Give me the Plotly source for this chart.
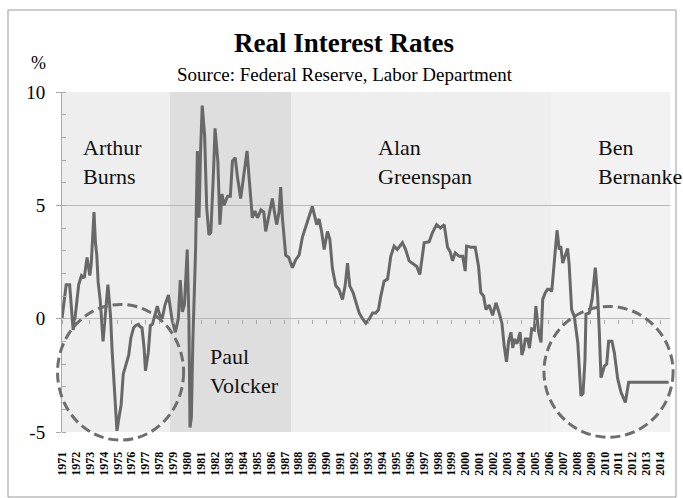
import plotly.graph_objects as go

# ---------------- data ----------------
years = [1971.0, 1971.3, 1971.55, 1971.8, 1971.95, 1972.2, 1972.4, 1972.6, 1972.8, 1973.0,
         1973.1, 1973.3, 1973.4, 1973.5, 1973.6, 1973.75, 1973.95, 1974.1, 1974.3, 1974.4,
         1974.5, 1974.6, 1974.8, 1974.95, 1975.1, 1975.25, 1975.4, 1975.55, 1975.7, 1975.8,
         1975.95, 1976.15, 1976.3, 1976.5, 1976.6, 1976.75, 1976.9, 1977.0, 1977.2, 1977.35,
         1977.5, 1977.7, 1977.85, 1978.0, 1978.2, 1978.4, 1978.65, 1978.9, 1979.15, 1979.36,
         1979.5, 1979.65, 1979.8, 1980.0, 1980.12, 1980.2, 1980.3, 1980.4, 1980.6, 1980.73,
         1980.85, 1980.96, 1981.08, 1981.25, 1981.4, 1981.56, 1981.7, 1981.9, 1982.0, 1982.2,
         1982.35, 1982.5, 1982.65, 1982.9, 1983.1, 1983.25, 1983.45, 1983.6, 1983.84, 1984.08,
         1984.3, 1984.45, 1984.68, 1984.87, 1985.05, 1985.3, 1985.5, 1985.64, 1985.9, 1986.12,
         1986.27, 1986.43, 1986.6, 1986.72, 1986.84, 1987.08, 1987.3, 1987.56, 1987.8, 1988.04,
         1988.28, 1988.52, 1988.7, 1988.99, 1989.15, 1989.31, 1989.48, 1989.67, 1989.84, 1990.08,
         1990.25, 1990.44, 1990.68, 1990.9, 1991.16, 1991.35, 1991.52, 1991.68, 1991.92, 1992.12,
         1992.36, 1992.6, 1992.84, 1993.1, 1993.32, 1993.55, 1993.75, 1993.9, 1994.15, 1994.4,
         1994.63, 1994.87, 1995.1, 1995.47, 1995.7, 1995.95, 1996.3, 1996.5, 1996.72, 1997.03,
         1997.39, 1997.63, 1997.92, 1998.2, 1998.47, 1998.71, 1998.9, 1999.07, 1999.26, 1999.55,
         1999.8, 1999.98, 2000.08, 2000.39, 2000.7, 2000.94, 2001.1, 2001.3, 2001.47, 2001.7,
         2001.95, 2002.19, 2002.42, 2002.62, 2002.78, 2002.95, 2003.1, 2003.27, 2003.4, 2003.5,
         2003.7, 2003.93, 2004.05, 2004.18, 2004.3, 2004.47, 2004.6, 2004.76, 2004.95, 2005.06,
         2005.26, 2005.43, 2005.55, 2005.74, 2005.9, 2006.02, 2006.2, 2006.38, 2006.58, 2006.74,
         2006.85, 2006.99, 2007.15, 2007.34, 2007.45, 2007.63, 2007.82, 2008.07, 2008.3, 2008.45,
         2008.59, 2008.66, 2008.9, 2009.1, 2009.33, 2009.5, 2009.62, 2009.74, 2009.98, 2010.15,
         2010.29, 2010.53, 2010.7, 2010.94, 2011.18, 2011.49, 2011.73, 2014.6]

rates = [0.0, 1.5, 1.5, -0.5, 0.1, 1.5, 1.9, 1.8, 2.7, 1.9,
         2.4, 4.7, 3.4, 2.8, 1.6, 0.8, -1.0, 0.2, 1.5, 0.8,
         0.0, -1.4, -3.3, -4.95, -4.35, -3.8, -2.45, -2.1, -1.85, -1.6,
         -0.85, -0.4, -0.3, -0.25, -0.35, -0.4, -1.3, -2.3, -1.5, -0.3,
         -0.25, 0.2, 0.55, 0.2, 0.0, 0.6, 1.05, 0.0, -0.6, 0.0,
         1.7, 0.3, 0.6, 3.05, 0.0, -4.8, -4.35, -1.1, 3.0, 7.4,
         4.45, 7.4, 9.4, 8.1, 4.9, 3.7, 3.8, 6.65, 8.4, 6.95,
         4.15, 5.5, 5.0, 5.4, 5.4, 6.95, 7.1, 6.3, 5.3, 6.4,
         7.4, 6.2, 4.45, 4.75, 4.45, 4.8, 4.7, 3.85, 4.7, 5.3,
         4.7, 4.15, 4.7, 5.8, 4.45, 2.8, 2.7, 2.25, 2.6, 2.8,
         3.6, 4.1, 4.4, 4.95, 4.6, 4.15, 4.4, 3.8, 3.05, 3.85,
         3.5, 2.2, 1.45, 1.3, 0.85, 1.45, 2.45, 1.45, 1.15, 0.7,
         0.25, 0.0, -0.2, 0.0, 0.25, 0.25, 0.4, 0.95, 1.65, 1.75,
         2.75, 3.2, 3.05, 3.35, 3.05, 2.55, 2.4, 2.3, 1.95, 3.35,
         3.4, 3.8, 4.15, 4.0, 4.15, 3.15, 2.95, 2.55, 2.9, 2.75,
         2.75, 2.1, 3.2, 3.15, 3.15, 2.3, 1.15, 1.0, 0.4, 0.6,
         0.15, 0.7, 0.25, -0.2, -1.2, -1.9, -1.0, -0.6, -1.3, -0.9,
         -1.1, -0.6, -1.6, -1.35, -0.9, -0.9, -1.3, -0.45, -0.5, 0.55,
         -0.6, -1.05, 0.85, 1.15, 1.3, 1.3, 1.2, 2.6, 3.9, 3.05,
         3.2, 2.45, 2.8, 3.1, 2.4, 0.4, 0.1, -1.05, -3.4, -3.3,
         -1.8, 0.2, 0.25, 0.85, 2.25, 1.0, -0.6, -2.6, -2.1, -2.0,
         -1.0, -1.0, -1.5, -2.65, -3.25, -3.7, -2.8, -2.8]

tick_years = list(range(1971, 2015))
tick_labels = [str(y) for y in tick_years]

# Fed chair periods (start, end) and labels
period_starts = [1971.0, 1978.75, 1987.5, 2006.15]
period_ends = [1978.75, 1987.5, 2006.15, 2014.7]
period_colors = ["#EEEEEE", "#DEDEDE", "#EEEEEE", "#F2F2F2"]
chair_names = ["Arthur<br>Burns", "Paul<br>Volcker", "Alan<br>Greenspan", "Ben<br>Bernanke"]
chair_label_x = [1972.4, 1981.5, 1993.6, 2009.35]
chair_label_y = [8.2, -1.05, 8.2, 8.2]

# ---------------- layout geometry ----------------
W, H = 683, 498
ML, MR, MT, MB = 62, 13, 92, 66
XR = [1971.0, 2014.7]
YR = [-5, 10]
PW = W - ML - MR
PH = H - MT - MB

SERIF = "Liberation Serif"


def px_x(px):
    return (px - ML) / PW


def px_y(py):
    return (H - MB - py) / PH


def dx(v):
    return (v - XR[0]) / (XR[1] - XR[0])


def dy(v):
    return (v - YR[0]) / (YR[1] - YR[0])


fig = go.Figure()

fig.add_trace(go.Scatter(
    x=years, y=rates, mode="lines",
    line=dict(color="#686868", width=3),
    hoverinfo="skip", showlegend=False,
))

shapes = []
for s, e, c in zip(period_starts, period_ends, period_colors):
    shapes.append(dict(type="rect", xref="x", yref="y", x0=s, x1=e, y0=YR[0], y1=YR[1],
                       fillcolor=c, line=dict(width=0), layer="below"))

# dashed circles highlighting negative real rates
circle_boxes = [(1970.68, 1979.74, -5.36, 0.63), (2005.64, 2014.92, -5.23, 0.54)]
for x0, x1, y0, y1 in circle_boxes:
    shapes.append(dict(type="circle", xref="paper", yref="paper",
                       x0=dx(x0), x1=dx(x1), y0=dy(y0), y1=dy(y1),
                       line=dict(color="#6E6E6E", width=3, dash="10px,5px"),
                       fillcolor="rgba(0,0,0,0)", layer="above"))

# outer chart border
shapes.append(dict(type="rect", xref="paper", yref="paper",
                   x0=px_x(8), x1=px_x(676), y0=px_y(497), y1=px_y(10),
                   line=dict(color="#9A9A9A", width=1), fillcolor="rgba(0,0,0,0)", layer="below"))

annotations = []
for name, lx, ly in zip(chair_names, chair_label_x, chair_label_y):
    annotations.append(dict(text=name, x=lx, y=ly, xref="x", yref="y",
                            xanchor="left", yanchor="top", align="left", showarrow=False,
                            font=dict(family=SERIF, size=22, color="#111111")))

annotations.append(dict(text="<b>Real Interest Rates</b>", x=px_x(344), y=px_y(43),
                        xref="paper", yref="paper", xanchor="center", yanchor="middle",
                        showarrow=False, font=dict(family=SERIF, size=27, color="#000000")))
annotations.append(dict(text="Source: Federal Reserve, Labor Department", x=px_x(345), y=px_y(75),
                        xref="paper", yref="paper", xanchor="center", yanchor="middle",
                        showarrow=False, font=dict(family=SERIF, size=19, color="#000000")))
annotations.append(dict(text="%", x=px_x(38), y=px_y(63),
                        xref="paper", yref="paper", xanchor="center", yanchor="middle",
                        showarrow=False, font=dict(family=SERIF, size=18, color="#000000")))

fig.update_layout(
    width=W, height=H,
    margin=dict(l=ML, r=MR, t=MT, b=MB, pad=0),
    paper_bgcolor="white", plot_bgcolor="white",
    shapes=shapes, annotations=annotations,
    showlegend=False,
    xaxis=dict(range=XR, tickmode="array", tickvals=tick_years, ticktext=tick_labels,
               tickangle=-90, ticks="outside", ticklen=14, tickcolor="rgba(0,0,0,0)",
               tickfont=dict(family=SERIF, size=12, color="#000000", weight="bold"),
               showgrid=False, zeroline=False, showline=False, fixedrange=True),
    xaxis2=dict(range=XR, overlaying="x", anchor="free", position=dy(0),
                tick0=1971, dtick=1, ticks="outside", ticklen=4, tickcolor="#A8A8A8",
                showticklabels=False, showgrid=False, zeroline=False, showline=False),
    yaxis=dict(range=YR, tickvals=[-5, 0, 5, 10], ticktext=["-5", "0", "5", "10"],
               ticks="outside", ticklen=5, tickcolor="#A8A8A8", ticklabelstandoff=7,
               tickfont=dict(family=SERIF, size=19, color="#000000"),
               showgrid=True, gridcolor="#B8B8B8", gridwidth=1,
               zeroline=False, showline=True, linecolor="#A8A8A8", linewidth=1,
               minor=dict(dtick=1, ticks="inside", ticklen=4, tickcolor="#A8A8A8", showgrid=False)),
)

# invisible trace to activate xaxis2
fig.add_trace(go.Scatter(x=[XR[0]], y=[0], xaxis="x2", mode="markers",
                         marker=dict(opacity=0), hoverinfo="skip", showlegend=False))

fig.write_html("out.html", config={"displayModeBar": False},
               post_script="document.body.style.margin='0';document.body.style.overflow='hidden';")
